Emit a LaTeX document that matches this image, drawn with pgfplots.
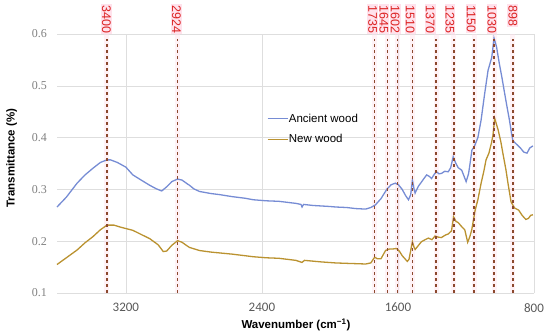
\documentclass[border=0pt]{standalone}
\usepackage{pgfplots}
\pgfplotsset{compat=1.18}
\usepackage{fontspec}
\setmainfont{Liberation Sans}
\newfontfamily\carlito{Carlito}
\newfontfamily\lserif{Liberation Serif}
\definecolor{ancient}{RGB}{118,140,212}
\definecolor{newwood}{RGB}{186,146,48}
\definecolor{peakline}{RGB}{140,72,45}
\definecolor{peaktext}{RGB}{220,35,35}
\definecolor{peakbg}{RGB}{255,226,236}
\definecolor{gridc}{RGB}{222,222,222}

\newcommand\band[1]{\addplot[forget plot, draw=peakbg, line width=5pt, opacity=0.45] coordinates {(#1,0.1) (#1,0.6)};}
\newcommand\peak[3]{\addplot[forget plot, draw=peakline, line width=1.6pt, dash pattern=on 3pt off 3pt] coordinates {(#1,0.1) (#1,0.59)};
  \node[rotate=-90, anchor=west, fill=peakbg, text=peaktext, inner sep=1pt, font=\fontsize{12.5}{12.5}\selectfont] at ([yshift=30pt]axis cs:#2,0.6) {#3};}

\pgfplotstableread{
wn T
3605 0.266
3550 0.285
3487 0.312
3440 0.328
3393 0.341
3350 0.352
3311 0.357
3290 0.357
3250 0.352
3200 0.343
3159 0.328
3110 0.318
3060 0.308
3020 0.301
2989 0.297
2960 0.305
2930 0.315
2896 0.320
2870 0.318
2840 0.311
2826 0.308
2800 0.301
2767 0.296
2700 0.292
2650 0.290
2574 0.286
2500 0.283
2450 0.280
2375 0.278
2300 0.277
2250 0.275
2200 0.273
2170 0.271
2164 0.266
2155 0.271
2100 0.269
2050 0.268
2000 0.267
1965 0.266
1900 0.265
1850 0.263
1790 0.262
1760 0.265
1733 0.270
1700 0.282
1666 0.300
1640 0.309
1616 0.312
1597 0.309
1575 0.300
1555 0.288
1538 0.280
1525 0.290
1515 0.318
1505 0.300
1499 0.293
1480 0.306
1460 0.315
1445 0.322
1431 0.328
1415 0.325
1402 0.321
1385 0.330
1373 0.334
1358 0.330
1343 0.331
1325 0.335
1304 0.334
1290 0.342
1275 0.363
1262 0.352
1246 0.342
1225 0.337
1199 0.315
1185 0.330
1178 0.345
1165 0.376
1152 0.382
1130 0.400
1111 0.434
1090 0.485
1070 0.530
1049 0.554
1041 0.575
1035 0.592
1020 0.575
1005 0.545
988 0.515
975 0.490
960 0.462
945 0.435
932 0.408
924 0.394
905 0.388
880 0.380
860 0.372
841 0.370
825 0.380
806 0.384
}\ancienttab

\pgfplotstableread{
wn T
3605 0.155
3550 0.168
3487 0.183
3440 0.197
3393 0.209
3350 0.222
3311 0.231
3270 0.231
3230 0.227
3159 0.221
3110 0.213
3060 0.205
3010 0.193
2980 0.180
2960 0.181
2930 0.192
2896 0.201
2870 0.198
2840 0.191
2826 0.188
2767 0.182
2700 0.179
2574 0.175
2450 0.170
2375 0.168
2300 0.167
2200 0.163
2164 0.159
2150 0.163
2050 0.160
1965 0.158
1880 0.157
1790 0.156
1760 0.158
1737 0.169
1720 0.166
1700 0.166
1673 0.182
1650 0.185
1630 0.185
1608 0.186
1590 0.180
1575 0.172
1545 0.161
1535 0.165
1515 0.199
1505 0.188
1499 0.184
1462 0.199
1440 0.203
1421 0.206
1400 0.203
1382 0.210
1365 0.208
1345 0.207
1320 0.212
1304 0.214
1285 0.220
1273 0.247
1258 0.238
1246 0.236
1225 0.228
1207 0.222
1190 0.198
1178 0.208
1166 0.222
1146 0.260
1130 0.280
1111 0.312
1095 0.335
1082 0.357
1065 0.370
1050 0.390
1041 0.405
1031 0.437
1020 0.425
1011 0.415
995 0.392
982 0.368
965 0.338
953 0.312
935 0.276
914 0.264
890 0.260
870 0.250
848 0.242
833 0.244
819 0.250
806 0.251
}\newtab

\begin{document}
\begin{tikzpicture}
\useasboundingbox (0,0) rectangle (550pt,333pt);
\begin{axis}[
  at={(57pt,40pt)}, anchor=south west,
  scale only axis, width=477pt, height=259pt,
  x dir=reverse, xmin=800, xmax=3605, ymin=0.1, ymax=0.6,
  clip=false,
  axis line style={draw=none},
  major tick length=0pt,
  grid=major, major grid style={draw=gridc, line width=0.6pt},
  xtick={800,1600,2400,3200}, xticklabels={800,1600,2400,3200},
  ytick={0.1,0.2,0.3,0.4,0.5,0.6}, yticklabels={0.1,0.2,0.3,0.4,0.5,0.6},
  xticklabel style={font=\carlito\fontsize{13}{13}\selectfont, text=black!65, inner sep=0pt, anchor=north, yshift=-10pt},
  yticklabel style={font=\lserif\fontsize{12}{12}\selectfont, text=black!50, inner sep=0pt, anchor=east, xshift=-10pt},
  xlabel={Wavenumber (cm\textsuperscript{\char"2212 1})},
  ylabel={Transmittance (\%)},
  xlabel style={font=\fontsize{11.5}{12}\selectfont\bfseries, at={(axis description cs:0.501,-0.1236)}, anchor=center, inner sep=0pt},
  ylabel style={font=\fontsize{11.5}{12}\selectfont\bfseries, at={(axis description cs:-0.095,0.521)}, anchor=center, inner sep=0pt},
  legend style={at={(axis description cs:0.440,0.695)}, anchor=north west, draw=none, fill=none, inner sep=0pt, font=\fontsize{11.5}{13}\selectfont, row sep=10pt, nodes={inner sep=0.5pt}},
  legend cell align=left,
  legend image code/.code={\draw[#1, line width=1.3pt] (0pt,0pt) -- (20pt,0pt);},
]
\band{3311}\band{2896}\band{1737}\band{1661}\band{1603}\band{1515}\band{1376}\band{1271}\band{1152}\band{1035}\band{924}
\addplot[ancient, line width=1.3pt] table[x=wn, y=T] {\ancienttab};
\addlegendentry{Ancient wood}
\addplot[newwood, line width=1.3pt] table[x=wn, y=T] {\newtab};
\addlegendentry{New wood}
\peak{3311}{3314}{3400}
\peak{2896}{2902}{2924}
\peak{1737}{1749}{1735}
\peak{1661}{1682}{1645}
\peak{1603}{1616}{1602}
\peak{1515}{1528}{1510}
\peak{1376}{1411}{1370}
\peak{1271}{1294}{1235}
\peak{1152}{1170}{1150}
\peak{1035}{1047}{1030}
\peak{924}{924}{898}
\end{axis}
\end{tikzpicture}
\end{document}
